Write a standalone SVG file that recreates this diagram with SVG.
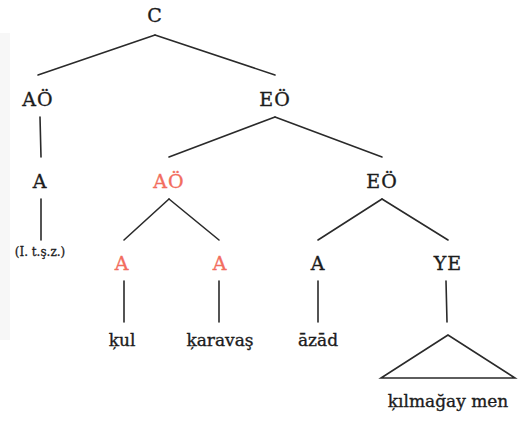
<svg xmlns="http://www.w3.org/2000/svg" width="528" height="421" viewBox="0 0 528 421">
  <style>
    .lbl { font-family: "DejaVu Serif", "Liberation Serif", serif; font-size: 19px; letter-spacing: 1px; fill: #1c1c1c; stroke: #1c1c1c; stroke-width: 0.35; text-anchor: middle; }
    .hl { fill: #f26d5e; stroke: #f26d5e; }
    .word { font-family: "DejaVu Serif", "Liberation Serif", serif; font-size: 17px; fill: #1c1c1c; stroke: #1c1c1c; stroke-width: 0.35; text-anchor: middle; }
    .small { font-family: "DejaVu Serif", "Liberation Serif", serif; font-size: 12px; fill: #1c1c1c; stroke: #1c1c1c; stroke-width: 0.3; text-anchor: middle; }
    .edge { stroke: #2a2a2a; stroke-width: 1.6; fill: none; stroke-linecap: round; }
  </style>
  <rect width="528" height="421" fill="#ffffff"/>
  <!-- faint margin band -->
  <rect x="0" y="33" width="10" height="307" fill="#f7f7f7"/>

  <g id="connectors">
    <line class="edge" x1="155" y1="35" x2="38" y2="75"/>
    <line class="edge" x1="155" y1="35" x2="275" y2="75"/>
    <line class="edge" x1="40" y1="117" x2="41" y2="157"/>
    <line class="edge" x1="41" y1="199" x2="41" y2="240"/>
    <line class="edge" x1="275" y1="117" x2="169" y2="157"/>
    <line class="edge" x1="275" y1="117" x2="382" y2="157"/>
    <line class="edge" x1="169" y1="199" x2="124" y2="240"/>
    <line class="edge" x1="169" y1="199" x2="219" y2="240"/>
    <line class="edge" x1="382" y1="199" x2="318" y2="240"/>
    <line class="edge" x1="382" y1="199" x2="448" y2="240"/>
    <line class="edge" x1="124" y1="281" x2="124" y2="322"/>
    <line class="edge" x1="219" y1="281" x2="219" y2="322"/>
    <line class="edge" x1="318" y1="281" x2="318" y2="322"/>
    <line class="edge" x1="446" y1="281" x2="447" y2="322"/>
    <polygon class="edge" points="448,335 381,378 515,378"/>
  </g>

  <g id="n-c"><text class="lbl" x="155" y="22">C</text></g>
  <g id="n-ao1"><text class="lbl" x="38" y="106">AÖ</text></g>
  <g id="n-eo1"><text class="lbl" x="275" y="106">EÖ</text></g>
  <g id="n-a1"><text class="lbl" x="40" y="188">A</text></g>
  <g id="n-pron"><text class="small" x="40" y="256">(I. t.ş.z.)</text></g>
  <g id="n-ao2"><text class="lbl hl" x="169" y="188">AÖ</text></g>
  <g id="n-eo2"><text class="lbl" x="382" y="188">EÖ</text></g>
  <g id="n-a2"><text class="lbl hl" x="122" y="270">A</text></g>
  <g id="n-a3"><text class="lbl hl" x="220" y="270">A</text></g>
  <g id="n-a4"><text class="lbl" x="318" y="270">A</text></g>
  <g id="n-ye"><text class="lbl" x="448" y="270">YE</text></g>
  <g id="n-kul"><text class="word" x="122" y="346">ķul</text></g>
  <g id="n-karavas"><text class="word" x="220" y="346">ķaravaş</text></g>
  <g id="n-azad"><text class="word" x="318" y="346">āzād</text></g>
  <g id="n-kilmagay"><text class="word" x="448" y="407">ķılmağay men</text></g>
</svg>
